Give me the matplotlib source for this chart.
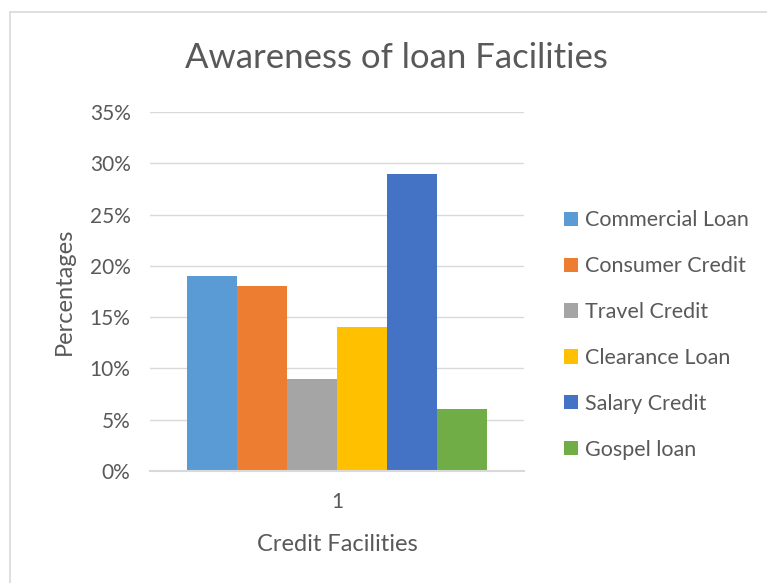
"""
Bar chart of loan facility awareness, saved to out.png.
"""

import matplotlib.pyplot as plt
from matplotlib.patches import Rectangle
from matplotlib.ticker import PercentFormatter

categories = ["1"]
series_names = [
    "Commercial Loan",
    "Consumer Credit",
    "Travel Credit",
    "Clearance Loan",
    "Salary Credit",
    "Gospel loan",
]
series_values = [19, 18, 9, 14, 29, 6]
series_colors = ["#5B9BD5", "#ED7D31", "#A5A5A5", "#FFC000", "#4472C4", "#70AD47"]
y_ticks = [0, 5, 10, 15, 20, 25, 30, 35]

TEXT_COLOR = "#595959"
GRID_COLOR = "#D9D9D9"


def main() -> None:
    plt.rcParams["font.family"] = ["Lato", "DejaVu Sans"]

    fig = plt.figure(figsize=(7.67, 5.83), dpi=100)

    # chart area border (left and top edges show, the rest runs off the canvas)
    fig.patches.append(
        Rectangle((10 / 767, -0.05), 1.2, (583 - 12) / 583 + 0.05,
                  transform=fig.transFigure, fill=False,
                  edgecolor=GRID_COLOR, linewidth=1.2)
    )

    ax = fig.add_axes([150 / 767, 112 / 583, 374 / 767, 359 / 583])

    n = len(series_names)
    width = 0.8 / n
    for i, (name, value, color) in enumerate(zip(series_names, series_values, series_colors)):
        offset = (i - (n - 1) / 2) * width
        ax.bar(0 + offset, value, width=width, color=color, label=name, zorder=2)

    ax.set_xlim(-0.5, 0.5)
    ax.set_ylim(0, 35)
    ax.set_xticks([0])
    ax.set_xticklabels(categories)
    ax.set_yticks(y_ticks)
    ax.yaxis.set_major_formatter(PercentFormatter(decimals=0))

    ax.grid(True, axis="y", color=GRID_COLOR, linewidth=1.0, zorder=0)
    for side in ["top", "right", "left"]:
        ax.spines[side].set_visible(False)
    ax.spines["bottom"].set_color(GRID_COLOR)
    ax.spines["bottom"].set_linewidth(1.5)
    ax.tick_params(length=0, labelsize=15, labelcolor=TEXT_COLOR)
    ax.tick_params(axis="y", pad=14)
    ax.tick_params(axis="x", pad=15)

    ax.set_xlabel("Credit Facilities", fontsize=17, color=TEXT_COLOR, labelpad=16)
    ax.set_ylabel("Percentages", fontsize=17, color=TEXT_COLOR, labelpad=11)

    fig.text(396 / 767, 1 - 58 / 583, "Awareness of loan Facilities",
             fontsize=25, color=TEXT_COLOR, ha="center", va="center")

    fig.legend(loc="center left", bbox_to_anchor=(545 / 767, 1 - 335 / 583),
               frameon=False, fontsize=15.5, labelcolor=TEXT_COLOR,
               handlelength=0.65, handleheight=0.65, handletextpad=0.3,
               labelspacing=1.2)

    fig.savefig("out.png", dpi=100)
    plt.close(fig)


if __name__ == "__main__":
    main()
